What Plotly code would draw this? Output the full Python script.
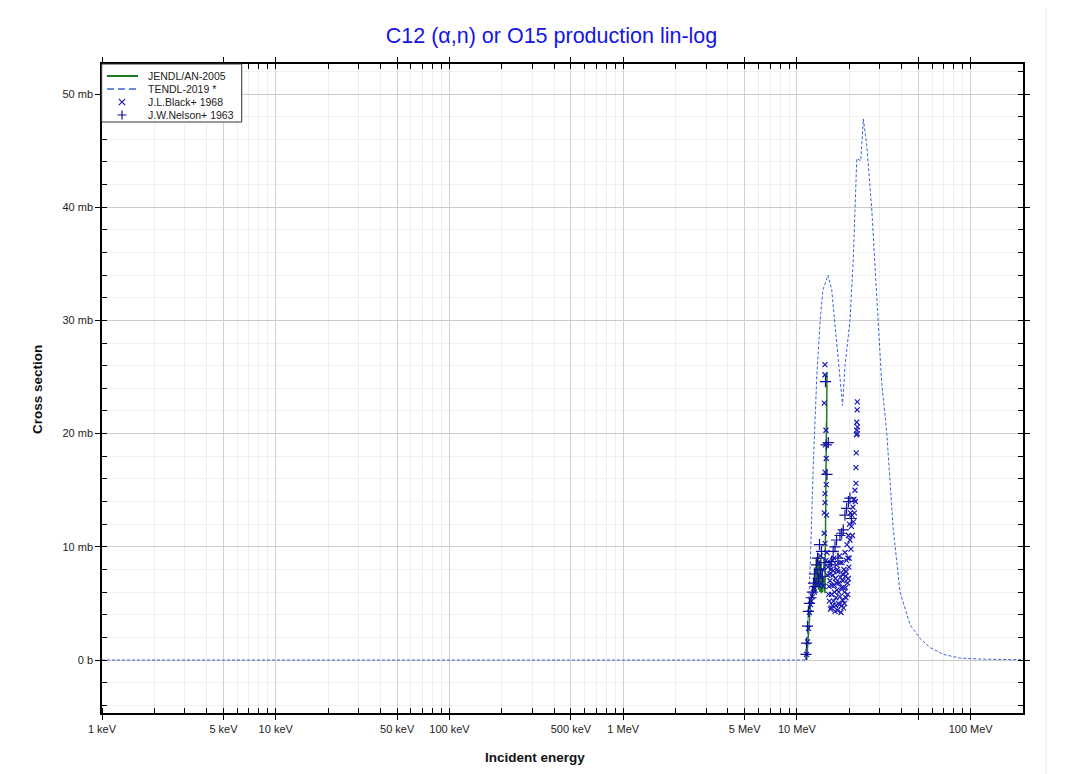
import plotly.graph_objects as go

# ---------------- data (energies in MeV, cross sections in mb) ----------------
tendl_E = [0.001, 11.3, 11.9, 12.4, 13.0, 13.6, 14.1, 15.1, 15.85, 16.6, 17.7, 18.3,
           18.9, 20.2, 21.1, 22.1, 23.3, 24.1, 25.2, 26.9, 28.8, 30.7, 32.9, 35.8,
           39.2, 44.8, 51.1, 58.3, 69.5, 86.7, 113.0, 200.0]
tendl_xs = [0.0, 0.0, 8.0, 17.0, 25.0, 30.0, 32.7, 34.0, 32.7, 29.4, 25.0, 22.5,
            26.0, 30.0, 35.5, 44.3, 44.1, 47.8, 45.5, 40.0, 32.1, 24.6, 20.0, 11.6,
            6.0, 3.1, 1.9, 1.1, 0.5, 0.17, 0.08, 0.02]

jendl_E = [11.38, 11.6, 11.9, 12.1, 12.3, 12.45, 12.55, 12.7, 12.8, 12.95, 13.05,
           13.2, 13.3, 13.45, 13.55, 13.7, 13.8, 13.95, 14.05, 14.2, 14.35, 14.5,
           14.55, 14.6, 14.63, 14.68, 14.72, 14.78, 14.82, 14.88]
jendl_xs = [0.0, 2.0, 4.5, 5.3, 5.8, 6.8, 6.0, 8.2, 6.2, 9.1, 6.4, 9.4, 6.2,
            8.8, 6.0, 9.0, 5.9, 7.7, 6.0, 7.4, 6.2, 5.9, 9.0, 14.0, 12.0, 18.0,
            16.0, 21.0, 20.0, 25.4]

black_E = [11.35, 11.5, 11.65, 11.8, 11.97, 12.12, 12.28, 12.45, 12.6, 12.78, 12.95,
           13.13, 13.3, 13.48, 13.66, 13.84, 14.02, 14.2, 14.36, 14.36, 14.36, 14.5,
           14.5, 14.5, 14.5, 14.5, 14.5, 14.6, 14.69, 14.69, 14.8, 14.75, 14.75,
           14.88, 14.98,
           15.08, 15.28, 15.38, 15.49, 15.59, 15.69, 15.8, 15.9, 16.0, 16.11, 16.22,
           16.33, 16.44, 16.55, 16.65, 16.76, 16.87, 16.99, 17.1, 17.21, 17.33,
           17.44, 17.56, 17.68, 17.8, 17.91, 18.03, 18.15, 18.27, 18.39, 18.52,
           18.64, 18.76, 18.89, 19.01, 19.14, 19.27, 19.4, 19.52, 19.65, 19.78,
           19.91, 20.05, 20.18, 20.31, 20.45, 20.58, 20.72, 20.86, 21.0, 21.14,
           21.28, 21.42, 21.56, 21.7, 21.85, 21.85, 21.93, 22.0, 22.08, 22.08,
           22.2, 22.25, 22.25, 22.3,
           15.2, 15.45, 15.75, 16.05, 16.4, 16.7, 17.05, 17.4, 17.75, 18.1, 18.45,
           18.8, 19.2, 19.6, 20.0, 15.6, 16.15, 16.9, 17.6, 18.35, 19.05, 19.75]
black_xs = [0.5, 1.6, 2.8, 4.2, 4.9, 5.2, 5.6, 6.3, 6.0, 7.0, 7.8,
            6.6, 8.6, 7.4, 9.2, 6.8, 8.0, 6.5, 11.2, 13.0, 22.7, 26.1,
            25.2, 16.6, 14.7, 13.9, 10.3, 19.0, 20.3, 8.8, 12.8, 17.8, 15.5,
            9.5, 7.5,
            8.2, 6.5, 5.2, 7.0, 4.5, 8.0, 5.8, 6.6, 4.8, 7.5, 5.2,
            9.0, 6.0, 4.3, 7.2, 5.5, 8.4, 6.2, 4.4, 7.8, 5.0,
            6.8, 9.2, 5.6, 7.3, 4.2, 6.4, 8.6, 5.3, 7.0, 4.6,
            8.0, 6.0, 9.5, 7.4, 5.5, 8.8, 10.2, 6.8, 9.0, 11.0,
            8.2, 12.0, 10.6, 13.0, 9.8, 11.8, 12.8, 11.0, 13.5, 12.2,
            14.2, 13.0, 15.0, 14.0, 15.6, 17.0, 18.3, 19.9, 20.3, 21.0,
            22.1, 22.8, 20.0, 20.6,
            5.8, 7.6, 4.6, 8.8, 6.6, 4.8, 8.0, 6.0, 8.6, 4.8, 6.4,
            5.0, 7.8, 5.8, 9.0, 8.6, 7.9, 6.8, 4.9, 7.6, 6.4, 7.2]

nelson_E = [11.28, 11.35, 11.5, 11.65, 11.8, 12.05, 12.28, 12.45, 12.6, 12.78, 12.95,
            13.13, 13.3, 13.48, 13.66, 13.84, 14.02, 14.3, 14.6, 14.75, 14.88, 15.15,
            15.49, 15.8, 16.16, 16.55, 16.9, 17.21, 17.68, 18.09, 18.47, 18.89,
            19.3, 19.78, 20.18, 20.58]
nelson_xs = [0.5, 1.5, 3.0, 4.3, 5.0, 5.5, 6.0, 6.8, 7.6, 6.5, 8.4,
             9.0, 7.2, 10.2, 8.0, 9.6, 7.4, 8.6, 24.6, 19.0, 16.4, 19.2,
             8.4, 8.7, 9.6, 10.0, 10.6, 9.0, 11.0, 11.2, 11.5, 12.8,
             13.4, 14.0, 14.3, 12.5]

series_names = ["JENDL/AN-2005", "TENDL-2019 *", "J.L.Black+ 1968", "J.W.Nelson+ 1963"]

x_tickvals_eV = [1e3, 5e3, 1e4, 5e4, 1e5, 5e5, 1e6, 5e6, 1e7, 5e7, 1e8]
x_ticktext = ["1 keV", "5 keV", "10 keV", "50 keV", "100 keV", "500 keV",
              "1 MeV", "5 MeV", "10 MeV", "", "100 MeV"]
y_tickvals = [0, 10, 20, 30, 40, 50]
y_ticktext = ["0 b", "10 mb", "20 mb", "30 mb", "40 mb", "50 mb"]

MEV = 1e6
FONT = "Liberation Sans, Arial, sans-serif"
C_JENDL = "#1e7d1e"
C_TENDL = "#3b63e0"
C_BLACK = "#1818b8"
C_NELSON = "#10109e"

fig = go.Figure()
fig.add_trace(go.Scatter(
    x=[e * MEV for e in jendl_E], y=jendl_xs, mode="lines", name=series_names[0],
    line=dict(color=C_JENDL, width=1.5)))
fig.add_trace(go.Scatter(
    x=[e * MEV for e in tendl_E], y=tendl_xs, mode="lines", name=series_names[1],
    line=dict(color=C_TENDL, width=1, dash="3px,2px")))
fig.add_trace(go.Scatter(
    x=[e * MEV for e in black_E], y=black_xs, mode="markers", name=series_names[2],
    marker=dict(symbol="x-thin", size=5, color=C_BLACK,
                line=dict(width=1.2, color=C_BLACK))))
fig.add_trace(go.Scatter(
    x=[e * MEV for e in nelson_E], y=nelson_xs, mode="markers", name=series_names[3],
    marker=dict(symbol="cross-thin", size=8, color=C_NELSON,
                line=dict(width=1.2, color=C_NELSON))))

# ---- compact legend box (pixel layout converted to paper units) ----
PL, PR, PT, PB = 102.0, 1023.0, 64.0, 713.0   # plot-area edges in page pixels


def px(x):
    return (x - PL) / (PR - PL)


def py(y):
    return (PB - y) / (PB - PT)


rows = [76, 89, 102, 115]
shapes = [
    dict(type="rect", xref="paper", yref="paper", x0=px(101.7), x1=px(241.7), y0=py(64), y1=py(122),
         fillcolor="white", line=dict(color="#333", width=1), layer="above"),
    dict(type="line", xref="paper", yref="paper", x0=px(107), x1=px(138), y0=py(rows[0]), y1=py(rows[0]),
         line=dict(color=C_JENDL, width=2), layer="above"),
    dict(type="line", xref="paper", yref="paper", x0=px(107), x1=px(138), y0=py(rows[1]), y1=py(rows[1]),
         line=dict(color=C_TENDL, width=1.5, dash="7px,4px"), layer="above"),
]
cx, s = 122.0, 3.2
yb = rows[2]
shapes.append(dict(
    type="path", xref="paper", yref="paper", layer="above", line=dict(color=C_BLACK, width=1.2),
    path=(f"M{px(cx - s)},{py(yb - s)} L{px(cx + s)},{py(yb + s)} "
          f"M{px(cx - s)},{py(yb + s)} L{px(cx + s)},{py(yb - s)}")))
s2 = 4.5
yn = rows[3]
shapes.append(dict(
    type="path", xref="paper", yref="paper", layer="above", line=dict(color=C_NELSON, width=1.2),
    path=(f"M{px(cx - s2)},{py(yn)} L{px(cx + s2)},{py(yn)} "
          f"M{px(cx)},{py(yn - s2)} L{px(cx)},{py(yn + s2)}")))
# faint page border on the right
shapes.append(dict(type="line", xref="paper", yref="paper", x0=px(1046), x1=px(1046),
                   y0=py(790), y1=py(-10), line=dict(color="#e6e6e6", width=1)))

axis_font = dict(family=FONT, size=11, color="#222")

annotations = [
    dict(text="<b>Incident energy</b>", xref="paper", yref="paper", x=px(535), y=py(757),
         xanchor="center", yanchor="middle", showarrow=False,
         font=dict(family=FONT, size=13.5, color="#111")),
    dict(text="<b>Cross section</b>", xref="paper", yref="paper", x=px(37), y=py(390),
         xanchor="center", yanchor="middle", showarrow=False, textangle=-90,
         font=dict(family=FONT, size=13.5, color="#111")),
]
for name, ry in zip(series_names, rows):
    annotations.append(dict(text=name, xref="paper", yref="paper", x=px(146), y=py(ry),
                            xanchor="left", yanchor="middle", showarrow=False,
                            font=dict(family=FONT, size=10.5, color="#222")))

fig.update_layout(
    width=1071, height=774,
    margin=dict(l=94, r=56, t=56, b=69),
    paper_bgcolor="white", plot_bgcolor="white",
    title=dict(text="C12 (α,n) or O15 production lin-log", x=0.5075, xanchor="center",
               y=0.965, yanchor="middle",
               font=dict(family=FONT, size=21.5, color="#1414e6")),
    font=axis_font,
    showlegend=False,
    xaxis=dict(type="log", range=[3, 8.301], tickvals=x_tickvals_eV, ticktext=x_ticktext,
               showgrid=True, gridcolor="#d0d0d0", gridwidth=1,
               ticks="outside", ticklen=5, tickcolor="#000",
               showline=True, linecolor="#000", linewidth=1.5, mirror="ticks",
               minor=dict(dtick="D1", ticks="inside", ticklen=5, tickcolor="#000",
                          showgrid=True, gridcolor="#efefef"),
               zeroline=False, tickfont=axis_font),
    yaxis=dict(range=[-4.68, 52.65], tickvals=y_tickvals, ticktext=y_ticktext,
               showgrid=True, gridcolor="#cccccc", gridwidth=1,
               ticks="outside", ticklen=5, tickcolor="#000",
               showline=True, linecolor="#000", linewidth=1.5, mirror="ticks",
               minor=dict(dtick=2, ticks="inside", ticklen=5, tickcolor="#000",
                          showgrid=True, gridcolor="#f0f0f0"),
               zeroline=False, tickfont=axis_font),
    annotations=annotations,
    shapes=shapes,
)

fig.write_html("out.html")
